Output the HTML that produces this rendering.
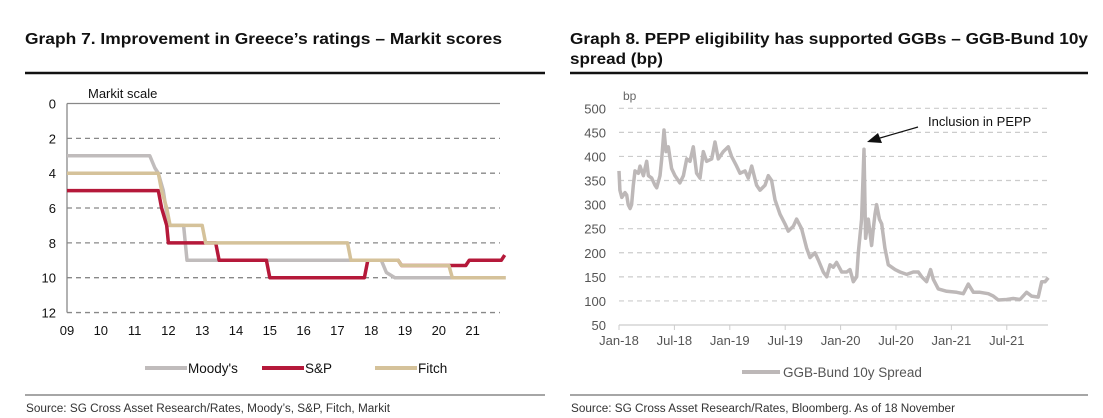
<!DOCTYPE html>
<html><head><meta charset="utf-8"><style>
html,body{margin:0;padding:0;background:#fff;}
svg{display:block;font-family:"Liberation Sans",Arial,sans-serif;}
</style></head><body>
<svg id="s" width="1103" height="418" viewBox="0 0 1103 418">
<text x="25" y="44" font-size="16" font-weight="bold" textLength="477" lengthAdjust="spacingAndGlyphs" fill="#111">Graph 7. Improvement in Greece’s ratings – Markit scores</text>
<text x="570" y="44" font-size="16" font-weight="bold" textLength="518" lengthAdjust="spacingAndGlyphs" fill="#111">Graph 8. PEPP eligibility has supported GGBs – GGB-Bund 10y</text>
<text x="570" y="64" font-size="16" font-weight="bold" textLength="93" lengthAdjust="spacingAndGlyphs" fill="#111">spread (bp)</text>
<line x1="25" y1="73" x2="545" y2="73" stroke="#111" stroke-width="2.5"/>
<line x1="570" y1="73" x2="1088" y2="73" stroke="#111" stroke-width="2.5"/>
<line x1="25" y1="395" x2="545" y2="395" stroke="#888" stroke-width="1.5"/>
<line x1="570" y1="395" x2="1088" y2="395" stroke="#888" stroke-width="1.5"/>
<text x="26" y="412" font-size="11.5" fill="#333" textLength="364" lengthAdjust="spacingAndGlyphs">Source: SG Cross Asset Research/Rates, Moody’s, S&amp;P, Fitch, Markit</text>
<text x="571" y="412" font-size="11.5" fill="#333" textLength="384" lengthAdjust="spacingAndGlyphs">Source: SG Cross Asset Research/Rates, Bloomberg. As of 18 November</text>
<g id="left"></g>
<g id="right"></g>
</svg>
<script>
// ---- Graph 7 data ----
const leftYTicks = [0,2,4,6,8,10,12];
const leftXLabels = ['09','10','11','12','13','14','15','16','17','18','19','20','21'];
const moodysT = [2009,2011.45,2011.6,2011.7,2011.85,2012.0,2012.45,2012.55,2018.3,2018.45,2018.7,21.98+2000];
const moodysV = [3,3,3.7,4,5,7,7,9,9,9.7,10,10];
const spT = [2009,2011.7,2011.8,2011.95,2012.0,2013.4,2013.5,2014.9,2015.0,2017.8,2017.9,2018.8,2018.9,2020.8,2020.9,2021.85,2021.95];
const spV = [5,5,6,7,8,8,9,9,10,10,9,9,9.3,9.3,9,9,8.7];
const fitchT = [2009,2011.7,2011.8,2011.95,2012.05,2013.0,2013.1,2017.3,2017.4,2018.8,2018.9,2020.3,2020.4,2021.98];
const fitchV = [4,4,5,6,7,7,8,8,9,9,9.3,9.3,10,10];
// ---- Graph 8 data ----
const rightYTicks = [50,100,150,200,250,300,350,400,450,500];
const rightXLabels = ['Jan-18','Jul-18','Jan-19','Jul-19','Jan-20','Jul-20','Jan-21','Jul-21'];
const spreadMonths = [0,0.1,0.3,0.65,0.83,1.0,1.2,1.37,1.55,1.73,2.1,2.27,2.64,2.82,3.0,3.18,3.54,3.9,4.08,4.44,4.62,4.87,5.09,5.34,5.7,6.06,6.6,6.97,7.33,7.69,8.05,8.41,8.77,9.13,9.49,10.04,10.4,10.76,11.3,11.84,12.2,12.74,13.1,13.65,14.0,14.37,14.9,15.27,15.81,16.17,16.53,16.9,17.44,17.98,18.34,18.88,19.24,19.78,20.32,20.69,21.23,21.59,22.13,22.49,22.85,23.21,23.57,24.12,24.66,25.02,25.38,25.74,25.92,26.28,26.53,26.71,27.0,27.36,27.54,27.73,27.9,28.2,28.45,28.8,29.17,29.53,29.9,30.43,31.16,31.88,32.42,32.78,33.32,33.75,34.04,34.58,35.49,36.57,37.29,37.83,38.38,39.1,40.0,40.54,41.08,41.99,42.7,43.43,44.15,44.69,45.4,45.78,46.14,46.5];
const spreadValues = [370,330,315,325,320,300,292,300,340,370,365,380,360,375,390,360,355,340,335,360,395,455,410,420,375,360,345,360,395,390,420,365,355,410,390,395,430,395,410,420,400,380,365,370,355,380,340,330,340,360,350,310,280,260,245,255,270,250,210,190,200,185,160,150,175,170,180,160,160,165,140,150,200,270,415,230,270,215,250,280,300,270,260,210,175,170,165,160,155,160,160,150,140,165,145,125,120,118,115,135,118,118,115,110,102,103,105,103,118,110,108,140,140,148];

const NS='http://www.w3.org/2000/svg';
function mk(parent,tag,attrs,text){const e=document.createElementNS(NS,tag);for(const k in attrs)e.setAttribute(k,attrs[k]);if(text!==undefined)e.textContent=text;parent.appendChild(e);return e;}

// Left chart
const L=document.getElementById('left');
const lx0=67, lxPer=33.8, ly0=103.5, lyPer=17.42, lxEnd=500;
const lX=t=>lx0+(t-2009)*lxPer;
const lY=v=>ly0+v*lyPer;
let e=mk(L,'text',{x:88,y:98,'font-size':13,fill:'#111'},'Markit scale');


leftYTicks.forEach(v=>{
  const ln=mk(L,'line',{x1:lx0,x2:lxEnd,y1:lY(v),y2:lY(v),stroke:'#888','stroke-width':1.3,'stroke-dasharray':v===0?'':'5,4'});
  
  
  const t=mk(L,'text',{x:56,y:lY(v)+5,'font-size':13,'text-anchor':'end',fill:'#111'},String(v));
  
  
});
e=mk(L,'line',{x1:lx0,x2:lx0,y1:ly0,y2:lY(12),stroke:'#888','stroke-width':1.3});


leftXLabels.forEach((s,i)=>{
  const t=mk(L,'text',{x:lX(2009+i),y:335,'font-size':13,'text-anchor':'middle',fill:'#111'},s);
  
  
});
function lpath(T,V,color,name){
  const d=T.map((t,i)=>(i?'L':'M')+lX(t).toFixed(1)+','+lY(V[i]).toFixed(1)).join('');
  const p=mk(L,'path',{d:d,fill:'none',stroke:color,'stroke-width':3.5,'stroke-linejoin':'round'});
  
  
}
lpath(moodysT,moodysV,'#c0bcbc','moodys-line');
lpath(spT,spV,'#b5193a','sp-line');
lpath(fitchT,fitchV,'#d5c29a','fitch-line');
[['Moody\'s','#c0bcbc',145],['S&P','#b5193a',262],['Fitch','#d5c29a',375]].forEach(([n,c,x])=>{
  const g=mk(L,'g',{});
  
  
  mk(g,'line',{x1:x,x2:x+42,y1:368,y2:368,stroke:c,'stroke-width':4});
  mk(g,'text',{x:x+43,y:373,'font-size':13.5,fill:'#111'},n);
});

// Right chart
const R=document.getElementById('right');
const rx0=619, rxPer=9.233, rxEnd=1048, rTop=108.3, rBot=325;
const rX=m=>rx0+m*rxPer;
const rY=v=>rBot-(v-50)*(rBot-rTop)/450;
e=mk(R,'text',{x:623,y:100,'font-size':12,fill:'#666'},'bp');


rightYTicks.forEach(v=>{
  if(v>50){
    const ln=mk(R,'line',{x1:rx0,x2:rxEnd,y1:rY(v),y2:rY(v),stroke:'#ccc','stroke-width':1.2,'stroke-dasharray':'5,4'});
    
    
  }
  const t=mk(R,'text',{x:606,y:rY(v)+5,'font-size':13,'text-anchor':'end',fill:'#555'},String(v));
  
  
});
e=mk(R,'line',{x1:rx0,x2:rxEnd,y1:rBot,y2:rBot,stroke:'#ccc','stroke-width':1.2});


rightXLabels.forEach((s,i)=>{
  const tk=mk(R,'line',{x1:rX(i*6),x2:rX(i*6),y1:rBot,y2:rBot+5,stroke:'#ccc'});
  
  
  const t=mk(R,'text',{x:rX(i*6),y:345,'font-size':13,'text-anchor':'middle',fill:'#555'},s);
  
  
});
const sd=spreadMonths.map((m,i)=>(i?'L':'M')+rX(m).toFixed(1)+','+rY(spreadValues[i]).toFixed(1)).join('');
e=mk(R,'path',{d:sd,fill:'none',stroke:'#bdb8b8','stroke-width':3.5,'stroke-linejoin':'round'});


e=mk(R,'text',{x:928,y:126,'font-size':13,fill:'#111'},'Inclusion in PEPP');


e=mk(R,'line',{x1:918,y1:127,x2:880,y2:138,stroke:'#111','stroke-width':1.2});


e=mk(R,'polygon',{points:'867,142 878,133 882,143',fill:'#111'});


const lg=mk(R,'g',{});


mk(lg,'line',{x1:742,x2:780,y1:372,y2:372,stroke:'#bdb8b8','stroke-width':4});
mk(lg,'text',{x:783,y:377,'font-size':13.5,fill:'#555'},'GGB-Bund 10y Spread');
</script>
</body></html>
